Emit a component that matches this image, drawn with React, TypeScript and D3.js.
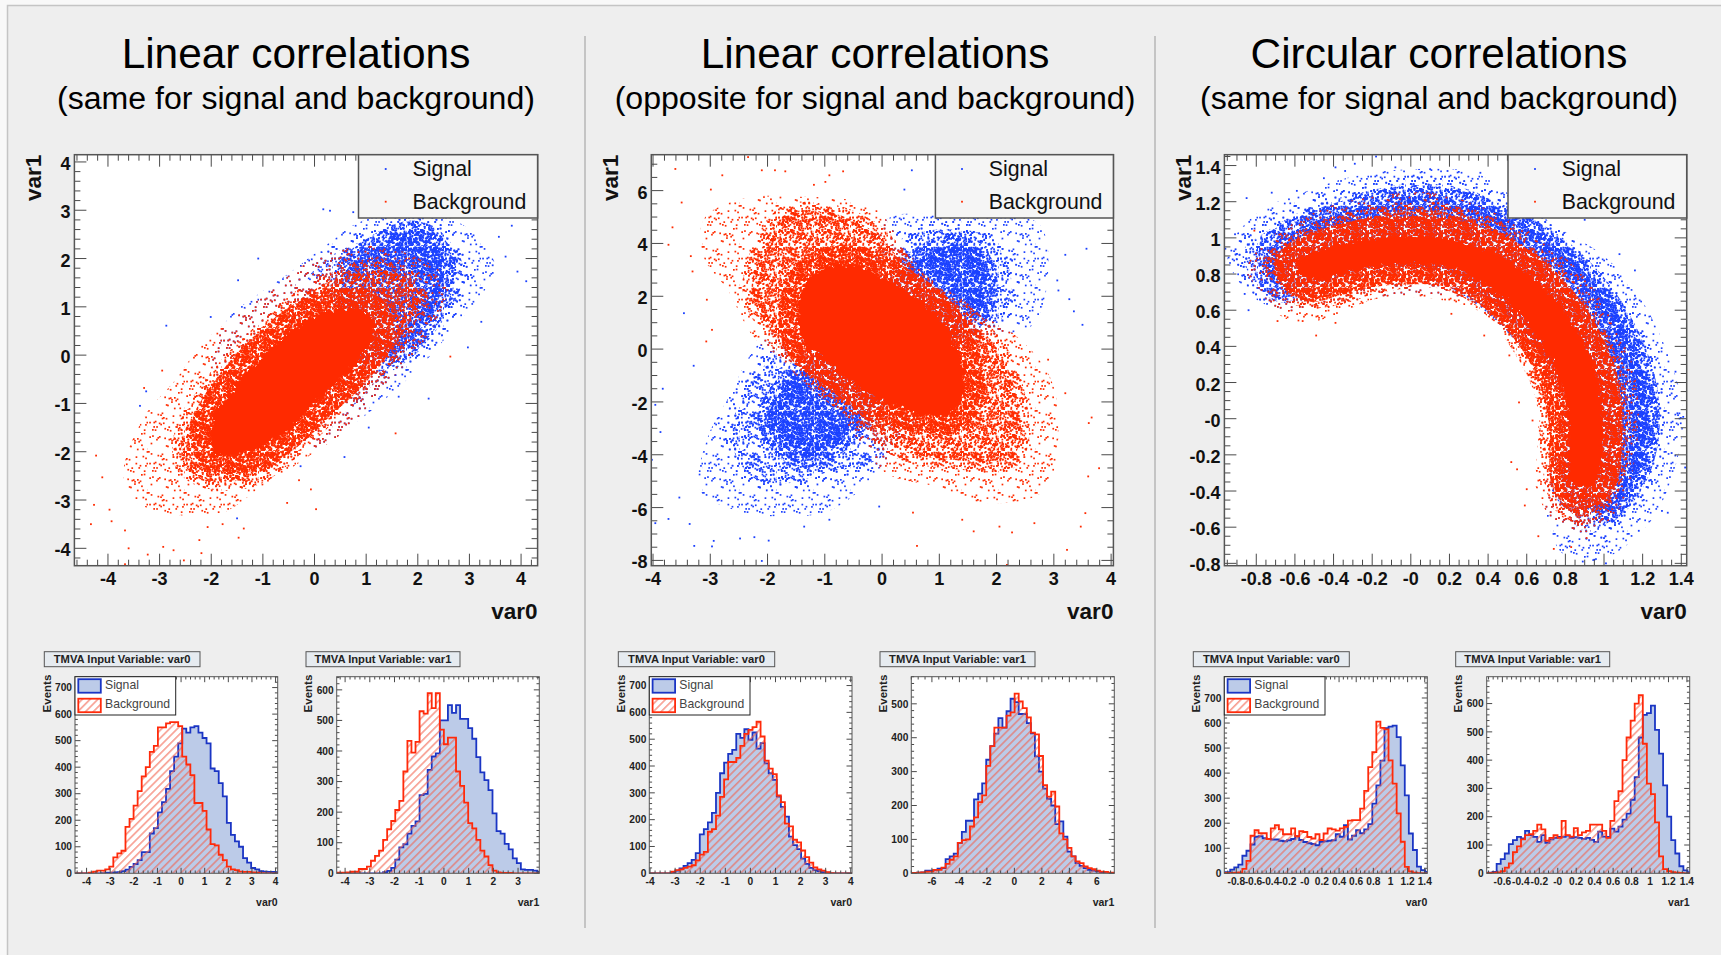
import React, { useEffect, useRef } from "react";
import * as d3 from "d3";

type Pt = number[];

const BLUE = "#1a40ff";
const RED = "#ff2b00";
const HIST_BLUE = "#1a35c4";
const HIST_RED = "#ff2a0a";

// ---- histogram bin contents, 50 bins ----
const h1Signal = [0,0,0,0,0,0,1,2,2,3,4,8,14,24,35,50,80,80,150,170,230,268,318,385,440,490,545,530,550,555,530,510,490,395,385,340,290,190,145,120,100,57,40,20,15,8,6,5,5,4];
const h1Background = [0,0,0,2,6,10,10,15,25,60,75,85,175,205,255,310,365,400,458,480,550,550,565,570,570,555,440,410,370,265,265,235,165,110,105,70,50,25,15,12,6,5,5,3,2,1,0,0,0,0];
const h2Signal = [0,0,0,0,0,0,0,0,0,0,0,4,8,18,45,85,95,130,155,170,256,260,338,382,392,500,500,550,525,550,505,505,475,440,380,330,305,272,196,138,130,96,78,49,33,13,11,11,9,5];
const h2Background = [2,2,3,5,5,14,14,22,41,57,74,109,144,171,207,237,333,433,395,430,530,522,589,540,589,470,422,444,444,333,286,231,164,147,109,74,55,27,9,3,1,1,1,0,0,0,0,0,0,0];
const h3Signal = [0,0,0,0,0,3,10,18,28,38,50,75,145,165,190,225,300,373,413,445,460,520,505,537,498,525,465,485,410,373,348,286,248,211,137,105,90,55,35,20,12,8,4,2,0,0,0,0,0,0];
const h3Background = [0,0,0,0,0,6,12,15,20,25,30,48,70,80,155,165,215,285,350,415,415,430,475,520,535,545,565,510,420,390,370,290,265,185,175,125,115,85,60,40,22,15,10,4,1,0,0,0,0,0];
const h4Signal = [1,2,3,8,8,10,14,15,42,50,58,90,122,155,155,218,235,265,335,375,412,458,430,478,515,505,470,470,443,413,345,300,250,220,200,145,153,108,64,50,30,22,15,10,8,6,3,2,1,1];
const h4Background = [1,2,3,5,5,10,10,17,28,40,50,90,98,100,138,165,210,230,317,375,430,430,430,465,475,530,507,487,460,415,410,346,260,226,241,197,118,100,75,50,35,30,20,15,12,8,5,4,2,2];
const h5Signal = [5,15,24,35,70,90,115,146,148,140,137,135,135,130,128,132,137,148,133,125,120,117,112,126,128,130,132,156,146,192,135,150,172,160,175,196,278,351,450,580,586,590,544,431,311,159,93,27,13,6];
const h5Background = [2,2,3,4,18,50,150,172,160,160,137,179,192,175,156,156,179,148,168,165,145,139,156,133,159,179,175,170,179,185,210,212,212,258,329,424,484,606,581,575,451,358,239,126,26,8,3,1,0,0];
const h6Signal = [2,5,33,50,70,103,117,129,123,150,135,129,111,135,108,120,125,129,129,133,125,128,125,122,125,118,111,147,130,129,158,147,165,190,211,260,340,480,560,566,593,507,423,311,200,117,70,25,10,4];
const h6Background = [1,2,3,8,20,35,75,95,120,135,138,150,172,155,115,125,135,125,185,135,130,160,135,145,150,172,172,172,150,125,185,255,290,400,480,540,600,630,458,317,280,180,60,15,8,4,2,1,0,0];

// ---- scatter clouds: density outlines, data coordinates ----
// the real plots hold about 20000 events each, so sparse / dense / solid zones stand in for them
const linSigOuter: Pt[] = [[3.5,1.83],[3.1,2.52],[2.3,2.93],[0.97,2.8],[0.17,2.24],[-0.5,1.69],[-1.17,1.2],[-1.7,0.72],[-1.97,-0.38],[-1,-1.76],[0.03,-1.93],[0.7,-1.48],[1.5,-0.79],[2.17,-0.1],[2.83,0.73],[3.3,1.35]];
const linSigMid: Pt[] = [[2.9,1.69],[2.7,2.24],[2.17,2.73],[1.17,2.45],[0.3,2.04],[-0.23,1.42],[-0.5,0],[0.63,-1.07],[1.23,-0.52],[1.97,0.03],[2.57,0.86]];
const linSigCore: Pt[] = [[2.5,2],[1.97,2.55],[1.1,2.2],[0.55,1.6],[0.8,-0.1],[1.4,-0.05],[2,0.45],[2.45,1.3]];
const linBkgOuter: Pt[] = [[-3.7,-2.45],[-3.3,-1.28],[-2.7,-0.52],[-2.17,0.24],[-1.57,0.79],[-0.9,1.28],[-0.17,1.9],[0.7,2.24],[1.63,2.17],[2.57,1.55],[2.3,0.59],[1.83,-0.1],[1.23,-0.79],[0.7,-1.48],[-0.23,-2.18],[-1.03,-2.73],[-1.83,-3.28],[-2.83,-3.28],[-3.5,-3]];
const linBkgMid: Pt[] = [[-2.57,-1.76],[-2.1,-0.79],[-1.57,-0.1],[-0.9,0.59],[-0.23,1.2],[0.7,1.69],[1.63,1.69],[2.03,1.28],[1.63,0.31],[0.97,-0.52],[0.3,-1.2],[-0.37,-1.9],[-1.17,-2.52],[-1.97,-2.6],[-2.5,-2.31]];
const linBkgCore: Pt[] = [[-2,-1.5],[-1.5,-0.6],[-0.9,0.1],[-0.2,0.7],[0.5,0.95],[1,0.9],[1.15,0.4],[0.65,-0.35],[0,-1],[-0.6,-1.6],[-1.3,-2],[-1.9,-2]];
const linSigStray: Pt[] = [[0.17,3.02],[0.3,2.99],[0.75,2.96],[-1.09,2],[-1.48,1.55],[-2.01,0.79],[-2.87,0.61],[3.93,1.73],[4.1,1.53],[3.7,2.04],[3.57,2.45],[3.82,2.68],[3.45,1.86],[3.23,0.69],[2.97,0.16],[2.21,-0.9],[1.63,-0.86],[1.05,-1.5],[0.58,-2.11],[-0.27,-2.3],[-1.5,-3.38],[-3.38,-1.05],[-3.26,-0.75]];
const linBkgStray: Pt[] = [[-4.23,-2.08],[-4.11,-2.53],[-4.27,-3.1],[-4.33,-3.5],[-4.67,-3.3],[-3.97,-3.2],[-3.93,-3.44],[-3.67,-3.63],[-3.6,-4],[-3.67,-4.33],[-3.23,-4.13],[-2.93,-3.97],[-2.73,-4.04],[-2.53,-4.25],[-2.19,-4.1],[-2.23,-3.83],[-2.07,-3.56],[-1.78,-3.5],[-1.47,-3.78],[-1.37,-3.59],[0.03,-3.19],[-0.07,-2.78],[1.57,-1.62],[-0.53,-3.06],[-0.3,-2.59],[-3.3,-0.68],[-2.95,-0.32],[2.63,-0.03]];

const oppSigOuter: Pt[] = [[-3.18,-5.33],[-3.06,-3.43],[-2.64,-1.67],[-2.2,0.1],[-0.29,4.14],[0.19,5.03],[1.22,5.03],[2.72,4.77],[2.9,2.88],[2.6,0.86],[1.52,0.35],[0.61,-2.17],[-0.11,-4.7],[-0.89,-6.09],[-1.8,-6.34],[-2.58,-6.09]];
const oppSigMid: Pt[] = [[-2.28,-4.82],[-2.64,-3.43],[-2.46,-1.92],[-1.86,-0.15],[0.31,4.14],[0.92,4.52],[1.82,4.27],[2.24,2.88],[2.12,1.24],[1.52,0.1],[0.01,-4.07],[-1.01,-4.7],[-1.67,-5.08]];
const oppSigCore: Pt[] = [[-1.73,-3.69],[-1.98,-2.55],[-1.49,-0.91],[-0.29,1.62],[0.92,3.76],[1.52,3.89],[1.82,2.63],[1.7,1.36],[0.31,-1.16],[-0.71,-3.43],[-1.25,-4.07]];
const oppBkgOuter: Pt[] = [[-3.12,4.9],[-2.52,5.66],[-1.49,5.78],[-0.17,5.4],[0.31,4.14],[1.22,1.62],[2.12,0.86],[2.9,-0.91],[3.08,-2.8],[2.84,-5.33],[1.82,-5.83],[0.92,-5.2],[0.07,-4.7],[-0.41,-3.43],[-1.37,-0.91],[-2.2,0.35],[-2.7,2.25],[-3.12,3.51]];
const oppBkgMid: Pt[] = [[-1.73,5.03],[-0.89,5.15],[-0.11,4.39],[0.61,2.63],[1.52,1.24],[2.18,-0.66],[2.42,-3.18],[2.24,-4.19],[1.22,-4.19],[0.31,-3.81],[-0.35,-2.55],[-1.19,-1.16],[-1.86,0.48],[-2.28,2.25]];
const oppBkgCore: Pt[] = [[-1.2,2.8],[-0.6,3.2],[0.1,2.6],[0.9,1.4],[1.3,0.1],[1.45,-1.4],[1.2,-2.4],[0.6,-2.4],[-0.2,-1.7],[-0.9,-0.6],[-1.35,0.2],[-1.45,1.6]];
const oppSigStray: Pt[] = [[-3.46,1.36],[-3.29,-0.63],[-3.83,-1.5],[-3.96,-2.11],[-3.87,-3.14],[-4.02,-4.19],[-3.96,-6.59],[-3.73,-6.43],[-3.54,-5.62],[-3.36,-6.62],[-3.28,-7.45],[-2.97,-7.47],[-2.94,-7.26],[-2.48,-7.17],[-2.23,-7.12],[-1.98,-7.25],[-2.1,-8.02],[-1.36,-6.72],[-0.92,-6.46],[-0.05,-5.96],[0.52,6.77],[0.39,6.04],[3.2,3.57],[3.57,3.8],[3.5,0.92],[3.35,1.43],[3.27,1.89],[3.08,2.22],[3.06,2.6]];
const oppBkgStray: Pt[] = [[-4.05,5.3],[-3.61,6.82],[-3.5,5.55],[-3.66,4.61],[-3.73,3.95],[-3.34,3.52],[-3.31,2.94],[-2.99,6.04],[-2.79,6.58],[-2.34,7.27],[-2.1,6.77],[-1.87,6.77],[-1.69,6.73],[-0.92,6.58],[-0.68,6.73],[-1.19,6.22],[-0.99,6.33],[-3.07,0.29],[-3.06,1.87],[-2.97,0.73],[3.66,-2.59],[3.61,-2.8],[3.79,-4.51],[3.6,-4.82],[3.55,-6.21],[3.47,-6.72],[3.23,-7.6],[2.27,-6.94],[2.18,-8.17],[0.61,-7.45],[1.6,-6.9],[1.4,-6.46],[0.54,-6.19],[3.2,-1.67],[2.9,-0.4],[2.05,-6.72],[2.66,-6.59]];

const circSigOuter: Pt[] = [[-0.95,0.92],[-0.78,1.15],[-0.56,1.25],[-0.3,1.34],[0,1.38],[0.33,1.36],[0.55,1.21],[0.79,1.04],[1,0.9],[1.18,0.68],[1.33,0.36],[1.41,0.01],[1.33,-0.39],[1.2,-0.62],[0.98,-0.78],[0.79,-0.75],[0.7,-0.52],[0.7,-0.3],[0.78,0.07],[0.65,0.44],[0.37,0.77],[0,0.8],[-0.37,0.77],[-0.59,0.66],[-0.76,0.64],[-0.87,0.73]];
const circSigMid: Pt[] = [[-0.87,0.92],[-0.74,1.04],[-0.52,1.17],[-0.26,1.25],[0,1.3],[0.29,1.27],[0.52,1.15],[0.72,1.03],[0.92,0.84],[1.09,0.62],[1.22,0.32],[1.28,0.01],[1.22,-0.32],[1.09,-0.51],[0.96,-0.63],[0.83,-0.56],[0.89,0.01],[0.65,0.4],[0.33,0.69],[0,0.73],[-0.37,0.69],[-0.65,0.64],[-0.76,0.69]];
const circSigCore: Pt[] = [[-0.74,0.93],[-0.52,1.08],[-0.26,1.17],[0,1.23],[0.29,1.19],[0.55,1.08],[0.79,0.92],[0.98,0.71],[1.13,0.45],[1.22,0.16],[1.22,-0.15],[1.13,-0.39],[1,-0.52],[0.79,-0.39],[0.83,0.07],[0.55,0.51],[0.18,0.8],[-0.19,0.84],[-0.52,0.73],[-0.71,0.73]];
const circBkgOuter: Pt[] = [[-0.85,0.82],[-0.74,0.99],[-0.48,1.15],[-0.19,1.23],[0.11,1.25],[0.37,1.17],[0.65,1.01],[0.85,0.84],[1.02,0.6],[1.15,0.29],[1.18,-0.03],[1.13,-0.36],[1.05,-0.54],[0.89,-0.63],[0.74,-0.56],[0.65,-0.39],[0.66,-0.04],[0.61,0.29],[0.41,0.56],[0.13,0.66],[-0.19,0.66],[-0.37,0.58],[-0.56,0.53],[-0.69,0.58],[-0.78,0.71]];
const circBkgMid: Pt[] = [[-0.71,0.86],[-0.46,1.04],[-0.19,1.12],[0.11,1.15],[0.37,1.08],[0.61,0.93],[0.81,0.73],[0.96,0.47],[1.07,0.16],[1.09,-0.12],[1.02,-0.41],[0.89,-0.54],[0.78,-0.47],[0.72,-0.21],[0.7,0.1],[0.57,0.4],[0.37,0.66],[0.15,0.77],[-0.15,0.75],[-0.37,0.68],[-0.52,0.66],[-0.65,0.71]];
const circBkgCore: Pt[] = [[-0.6,0.85],[-0.41,0.95],[-0.15,1],[0.15,1],[0.42,0.92],[0.64,0.77],[0.84,0.52],[0.97,0.2],[0.99,-0.12],[0.95,-0.36],[0.84,-0.36],[0.82,-0.03],[0.75,0.27],[0.56,0.58],[0.26,0.82],[-0.11,0.85],[-0.37,0.8],[-0.52,0.76]];
const circSigStray: Pt[] = [[-0.96,0.94],[-0.91,1.02],[-0.85,1.22],[-0.72,1.25],[-0.59,1.26],[-0.45,1.33],[-0.39,1.39],[-0.34,1.37],[-0.29,1.41],[-0.18,1.45],[-0.08,1.39],[0.1,1.38],[0.19,1.37],[0.36,1.36],[0.9,1.1],[1.08,0.91],[1.16,0.82],[1.16,0.68],[1.37,0.26],[1.35,0.14],[1.41,0.01],[1.38,0.03],[1.35,-0.19],[1.42,-0.27],[1.33,-0.52],[1.3,-0.51],[1.18,-0.62],[1.01,-0.8],[0.95,-0.78],[0.89,-0.79],[-0.84,0.6],[-0.86,0.69]];
const circBkgStray: Pt[] = [[-0.97,0.84],[-0.81,1.04],[-0.49,0.46],[-0.69,0.54],[-0.56,0.54],[-0.39,0.53],[-0.25,0.64],[0.21,0.58],[0.38,0.46],[0.51,0.35],[0.56,0.09],[0.63,-0.01],[0.52,-0.24],[0.55,-0.28],[0.6,-0.39],[0.59,-0.48],[0.66,-0.65],[0.74,-0.72],[0.83,-0.71],[0.91,-0.66]];

// ---- tick labels ----
const linXTicks = [-4,-3,-2,-1,0,1,2,3,4];
const linYTicks = [-4,-3,-2,-1,0,1,2,3,4];
const oppXTicks = [-4,-3,-2,-1,0,1,2,3,4];
const oppYTicks = [-8,-6,-4,-2,0,2,4,6];
const circTicks = [-0.8,-0.6,-0.4,-0.2,0,0.2,0.4,0.6,0.8,1,1.2,1.4];
const circYTicks = [-0.8,-0.6,-0.4,-0.2,0,0.2,0.4,0.6,0.8,1,1.2,1.4];

const fmt = (v: number) => (v === 0 ? "-0" : String(v));
const fmtPlain = (v: number) => String(v);

const scatterPanels = [
  {
    title: "Linear correlations", sub: "(same for signal and background)", cx: 296,
    frame: [74.4, 537.6], xDom: [-4.65, 4.32], yDom: [-4.36, 4.15],
    xTicks: linXTicks, yTicks: linYTicks, xSub: 5, ySub: 5, fmt: fmtPlain,
    sig: [linSigOuter, linSigMid, linSigCore], bkg: [linBkgOuter, linBkgMid, linBkgCore],
    sigStray: linSigStray, bkgStray: linBkgStray,
    yLabelX: 33, tickRight: 70.5, legX: 358.5, dotX: 385.7, textX: 412.6,
  },
  {
    title: "Linear correlations", sub: "(opposite for signal and background)", cx: 875,
    frame: [651.3, 1113.4], xDom: [-4.03, 4.04], yDom: [-8.2, 7.36],
    xTicks: oppXTicks, yTicks: oppYTicks, xSub: 5, ySub: 4, fmt: fmtPlain,
    sig: [oppSigOuter, oppSigMid, oppSigCore], bkg: [oppBkgOuter, oppBkgMid, oppBkgCore],
    sigStray: oppSigStray, bkgStray: oppBkgStray,
    yLabelX: 610, tickRight: 647.5, legX: 935.4, dotX: 962, textX: 988.8,
  },
  {
    title: "Circular correlations", sub: "(same for signal and background)", cx: 1439,
    frame: [1224.4, 1686.7], xDom: [-0.965, 1.428], yDom: [-0.813, 1.46],
    xTicks: circTicks, yTicks: circYTicks, xSub: 4, ySub: 4, fmt,
    sig: [circSigOuter, circSigMid, circSigCore], bkg: [circBkgOuter, circBkgMid, circBkgCore],
    sigStray: circSigStray, bkgStray: circBkgStray,
    yLabelX: 1183, tickRight: 1220.5, legX: 1508, dotX: 1535, textX: 1561.8,
  },
];

const histPanels = [
  { name: "var0", frame: [75, 277.7], xDom: [-4.49, 4.09], yMax: 741, xTicks: [-4,-3,-2,-1,0,1,2,3,4], yTicks: [0,100,200,300,400,500,600,700], sig: h1Signal, bkg: h1Background, legend: true, box: [44.3, 200], evX: 46.7, xSub: 5, ySub: 5, fmt: fmtPlain },
  { name: "var1", frame: [336.7, 539.3], xDom: [-4.34, 3.86], yMax: 643, xTicks: [-4,-3,-2,-1,0,1,2,3], yTicks: [0,100,200,300,400,500,600], sig: h2Signal, bkg: h2Background, legend: false, box: [306, 460], evX: 308, xSub: 5, ySub: 5, fmt: fmtPlain },
  { name: "var0", frame: [649.3, 852], xDom: [-4.03, 4.05], yMax: 733, xTicks: [-4,-3,-2,-1,0,1,2,3,4], yTicks: [0,100,200,300,400,500,600,700], sig: h3Signal, bkg: h3Background, legend: true, box: [618.3, 774.7], evX: 621, xSub: 5, ySub: 5, fmt: fmtPlain },
  { name: "var1", frame: [911.3, 1114.3], xDom: [-7.5, 7.27], yMax: 580, xTicks: [-6,-4,-2,0,2,4,6], yTicks: [0,100,200,300,400,500], sig: h4Signal, bkg: h4Background, legend: false, box: [880, 1035], evX: 883, xSub: 4, ySub: 5, fmt: fmtPlain },
  { name: "var0", frame: [1224.3, 1427.3], xDom: [-0.94, 1.43], yMax: 785, xTicks: circTicks, yTicks: [0,100,200,300,400,500,600,700], sig: h5Signal, bkg: h5Background, legend: true, box: [1193.3, 1349.3], evX: 1196, xSub: 4, ySub: 5, fmt },
  { name: "var1", frame: [1486.7, 1689.7], xDom: [-0.77, 1.43], yMax: 695, xTicks: circTicks.slice(1), yTicks: [0,100,200,300,400,500,600], sig: h6Signal, bkg: h6Background, legend: false, box: [1455.7, 1609.7], evX: 1457.7, xSub: 4, ySub: 5, fmt },
];

const SANS = "'Liberation Sans', Arial, sans-serif";

// major ticks plus minor ones on all four sides, root style
function drawTicks(g: any, x: any, y: any, p: any, major: number, minor: number) {
  const [x0, x1] = x.range();
  const [y0, y1] = y.range();
  const minorsOf = (ticks: number[], sub: number, dom: number[]) => {
    const step = (ticks[1] - ticks[0]) / sub;
    const out: number[] = [];
    for (let v = ticks[0] - step * sub; v <= ticks[ticks.length - 1] + step * sub + 1e-9; v += step) {
      if (v >= dom[0] && v <= dom[1]) out.push(v);
    }
    return out;
  };
  const line = (x1a: number, y1a: number, x2a: number, y2a: number) =>
    g.append("line").attr("x1", x1a).attr("y1", y1a).attr("x2", x2a).attr("y2", y2a)
      .attr("stroke", "#4a4a4a").attr("stroke-width", 1);
  minorsOf(p.xTicks, p.xSub, x.domain()).forEach((v) => {
    const isMajor = p.xTicks.some((t: number) => Math.abs(t - v) < 1e-6);
    const len = isMajor ? major : minor;
    line(x(v), y0, x(v), y0 - len);
    line(x(v), y1, x(v), y1 + len);
  });
  minorsOf(p.yTicks, p.ySub, y.domain()).forEach((v) => {
    const isMajor = p.yTicks.some((t: number) => Math.abs(t - v) < 1e-6);
    const len = isMajor ? major : minor;
    line(x0, y(v), x0 + len, y(v));
    line(x1, y(v), x1 - len, y(v));
  });
}

const App = () => {
  const svgRef = useRef<SVGSVGElement>(null);

  useEffect(() => {
    const svg = d3.select(svgRef.current);
    svg.selectAll("*").remove();

    svg.append("rect").attr("width", 1721).attr("height", 955).attr("fill", "#f8f8f8");
    svg.append("rect").attr("x", 7.5).attr("y", 5.5).attr("width", 1720).attr("height", 960)
      .attr("fill", "#eeeeee").attr("stroke", "#c4c4c4").attr("stroke-width", 1.5);

    [585, 1155].forEach((sx) => {
      svg.append("line").attr("x1", sx).attr("x2", sx).attr("y1", 36).attr("y2", 928)
        .attr("stroke", "#a8a8a8").attr("stroke-width", 1.2);
    });

    // stipple textures for the sparse and dense zones of the clouds
    const defs = svg.append("defs");
    const stipple = (id: string, color: string, n: number) => {
      const pat = defs.append("pattern").attr("id", id).attr("patternUnits", "userSpaceOnUse")
        .attr("width", 37).attr("height", 41);
      d3.range(n).forEach((i) => {
        pat.append("rect").attr("x", (i * 13.7) % 37).attr("y", (i * i * 0.37 + i * 7.3) % 41)
          .attr("width", 1.7).attr("height", 1.7).attr("fill", color);
      });
    };
    [["blue", BLUE], ["red", RED]].forEach(([key, color]) => {
      stipple(`sparse-${key}`, color, 55);
      stipple(`medium-${key}`, color, 170);
      stipple(`dense-${key}`, color, 400);
      stipple(`vdense-${key}`, color, 750);
    });

    // roughens the edge of the solid zone so it does not read as a drawn shape
    const rough = defs.append("filter").attr("id", "rough").attr("x", "-10%").attr("y", "-10%")
      .attr("width", "120%").attr("height", "120%");
    rough.append("feTurbulence").attr("type", "fractalNoise").attr("baseFrequency", 0.16)
      .attr("numOctaves", 2).attr("seed", 4).attr("result", "noise");
    rough.append("feDisplacementMap").attr("in", "SourceGraphic").attr("in2", "noise")
      .attr("scale", 12).attr("xChannelSelector", "R").attr("yChannelSelector", "G");

    const hatch = defs.append("pattern").attr("id", "hatch").attr("patternUnits", "userSpaceOnUse")
      .attr("width", 5.5).attr("height", 5.5).attr("patternTransform", "rotate(-45)");
    hatch.append("line").attr("x1", 0).attr("x2", 5.5).attr("y1", 2.7).attr("y2", 2.7)
      .attr("stroke", "#f2604a").attr("stroke-width", 1);

    // ---- big titles and scatter plots ----
    const top = 154.7;
    const bottom = 565.7;
    scatterPanels.forEach((p, pi) => {
      svg.append("text").attr("x", p.cx).attr("y", 68).attr("text-anchor", "middle")
        .attr("font-family", SANS).attr("font-size", 42.4).attr("fill", "#000").text(p.title);
      svg.append("text").attr("x", p.cx).attr("y", 109).attr("text-anchor", "middle")
        .attr("font-family", SANS).attr("font-size", 32.1).attr("fill", "#000").text(p.sub);

      const x = d3.scaleLinear().domain(p.xDom).range(p.frame);
      const y = d3.scaleLinear().domain(p.yDom).range([bottom, top]);

      svg.append("rect").attr("x", p.frame[0]).attr("y", top)
        .attr("width", p.frame[1] - p.frame[0]).attr("height", bottom - top).attr("fill", "#fff");

      const clipId = `clip-${pi}`;
      defs.append("clipPath").attr("id", clipId).append("rect").attr("x", p.frame[0]).attr("y", top)
        .attr("width", p.frame[1] - p.frame[0]).attr("height", bottom - top);
      const cloud = svg.append("g").attr("clip-path", `url(#${clipId})`);

      const outline = d3.line<Pt>().x((d) => x(d[0])).y((d) => y(d[1])).curve(d3.curveCatmullRomClosed);
      const strayDots = (stray: Pt[], color: string) => {
        cloud.selectAll(null).data(stray).enter().append("rect")
          .attr("x", (d) => x(d[0]) - 0.9).attr("y", (d) => y(d[1]) - 0.9)
          .attr("width", 1.8).attr("height", 1.8).attr("fill", color);
      };

      // signal: textured all the way in, no solid zone
      cloud.append("path").attr("d", outline(p.sig[0])).attr("fill", "url(#sparse-blue)");
      cloud.append("path").attr("d", outline(p.sig[1])).attr("fill", "url(#medium-blue)")
        .attr("stroke", "url(#sparse-blue)").attr("stroke-width", 16);
      cloud.append("path").attr("d", outline(p.sig[2])).attr("fill", "url(#vdense-blue)")
        .attr("stroke", "url(#dense-blue)").attr("stroke-width", 22);
      strayDots(p.sigStray, BLUE);

      // background: stipple out to the dense line, solid only in the middle
      cloud.append("path").attr("d", outline(p.bkg[0])).attr("fill", "url(#sparse-red)");
      cloud.append("path").attr("d", outline(p.bkg[1])).attr("fill", "url(#dense-red)")
        .attr("stroke", "url(#medium-red)").attr("stroke-width", 18);
      cloud.append("path").attr("d", outline(p.bkg[2])).attr("fill", "none")
        .attr("stroke", "url(#vdense-red)").attr("stroke-width", 40);
      cloud.append("path").attr("d", outline(p.bkg[2])).attr("fill", RED).attr("filter", "url(#rough)");
      strayDots(p.bkgStray, RED);

      const axes = svg.append("g");
      drawTicks(axes, x, y, p, 12, 6);
      svg.append("rect").attr("x", p.frame[0]).attr("y", top)
        .attr("width", p.frame[1] - p.frame[0]).attr("height", bottom - top)
        .attr("fill", "none").attr("stroke", "#555").attr("stroke-width", 1.5);

      p.xTicks.forEach((t) => {
        svg.append("text").attr("x", x(t)).attr("y", 584.5).attr("text-anchor", "middle")
          .attr("font-family", SANS).attr("font-weight", "bold").attr("font-size", 18)
          .attr("fill", "#111").text(p.fmt(t));
      });
      p.yTicks.forEach((t) => {
        svg.append("text").attr("x", p.tickRight).attr("y", y(t) + 8).attr("text-anchor", "end")
          .attr("font-family", SANS).attr("font-weight", "bold").attr("font-size", 18)
          .attr("fill", "#111").text(p.fmt(t));
      });
      svg.append("text").attr("x", p.frame[1]).attr("y", 619).attr("text-anchor", "end")
        .attr("font-family", SANS).attr("font-weight", "bold").attr("font-size", 22.5)
        .attr("fill", "#111").text("var0");
      svg.append("text").attr("transform", `translate(${p.yLabelX + 8},${top}) rotate(-90)`)
        .attr("text-anchor", "end").attr("font-family", SANS).attr("font-weight", "bold")
        .attr("font-size", 22.5).attr("fill", "#111").text("var1");

      // legend
      svg.append("rect").attr("x", p.legX).attr("y", top).attr("width", p.frame[1] - p.legX)
        .attr("height", 63.3).attr("fill", "#f5f5f5").attr("stroke", "#555").attr("stroke-width", 1.5);
      [["Signal", BLUE, 176, 169], ["Background", RED, 209, 201.7]].forEach(([label, color, ty, dy]: any) => {
        svg.append("rect").attr("x", p.dotX - 0.9).attr("y", dy - 0.9).attr("width", 1.8).attr("height", 1.8).attr("fill", color);
        svg.append("text").attr("x", p.textX).attr("y", ty).attr("font-family", SANS)
          .attr("font-size", 21.3).attr("fill", "#111").text(label);
      });
    });

    // ---- small input variable histograms ----
    const hTop = 676.7;
    const hBottom = 873.3;
    histPanels.forEach((p, hi) => {
      const x = d3.scaleLinear().domain(p.xDom).range(p.frame);
      const y = d3.scaleLinear().domain([0, p.yMax]).range([hBottom, hTop]);
      const binW = (p.xDom[1] - p.xDom[0]) / p.sig.length;
      // the bins sit a little under half a bin right of the frame edge in the picture
      const edge = (i: number) => p.xDom[0] + (i + 0.45) * binW;
      const steps = (a: number[]) => [
        [p.xDom[0], a[0]],
        ...a.map((v, i) => [edge(i), v]),
        [edge(a.length), a[a.length - 1]],
      ];

      svg.append("rect").attr("x", p.box[0]).attr("y", 651.7).attr("width", p.box[1] - p.box[0])
        .attr("height", 15).attr("fill", "#e6ebf0").attr("stroke", "#555").attr("stroke-width", 1);
      svg.append("text").attr("x", (p.box[0] + p.box[1]) / 2).attr("y", 662.6).attr("text-anchor", "middle")
        .attr("font-family", SANS).attr("font-weight", "bold").attr("font-size", 11.2)
        .attr("fill", "#222").text(`TMVA Input Variable: ${p.name}`);

      svg.append("rect").attr("x", p.frame[0]).attr("y", hTop)
        .attr("width", p.frame[1] - p.frame[0]).attr("height", hBottom - hTop).attr("fill", "#fff");

      const clipId = `hclip-${hi}`;
      defs.append("clipPath").attr("id", clipId).append("rect").attr("x", p.frame[0]).attr("y", hTop)
        .attr("width", p.frame[1] - p.frame[0]).attr("height", hBottom - hTop);
      const bars = svg.append("g").attr("clip-path", `url(#${clipId})`);

      const area = d3.area<Pt>().x((d) => x(d[0])).y0(hBottom).y1((d) => y(d[1])).curve(d3.curveStepAfter);
      const topLine = d3.line<Pt>().x((d) => x(d[0])).y((d) => y(d[1])).curve(d3.curveStepAfter);

      bars.append("path").attr("d", area(steps(p.sig))).attr("fill", "#bccbe8");
      bars.append("path").attr("d", topLine(steps(p.sig))).attr("fill", "none").attr("stroke", HIST_BLUE).attr("stroke-width", 1.8);
      bars.append("path").attr("d", area(steps(p.bkg))).attr("fill", "url(#hatch)");
      bars.append("path").attr("d", topLine(steps(p.bkg))).attr("fill", "none").attr("stroke", HIST_RED).attr("stroke-width", 1.8);

      const axes = svg.append("g");
      drawTicks(axes, x, y, p, 5.5, 2.8);
      svg.append("rect").attr("x", p.frame[0]).attr("y", hTop)
        .attr("width", p.frame[1] - p.frame[0]).attr("height", hBottom - hTop)
        .attr("fill", "none").attr("stroke", "#555").attr("stroke-width", 1);

      p.xTicks.forEach((t) => {
        svg.append("text").attr("x", x(t)).attr("y", 885).attr("text-anchor", "middle")
          .attr("font-family", SANS).attr("font-weight", "bold").attr("font-size", 10.2)
          .attr("fill", "#222").text(p.fmt(t));
      });
      p.yTicks.forEach((t) => {
        svg.append("text").attr("x", p.frame[0] - 3).attr("y", y(t) + 3.7).attr("text-anchor", "end")
          .attr("font-family", SANS).attr("font-weight", "bold").attr("font-size", 10.2)
          .attr("fill", "#222").text(fmtPlain(t));
      });
      svg.append("text").attr("x", p.frame[1]).attr("y", 905.5).attr("text-anchor", "end")
        .attr("font-family", SANS).attr("font-weight", "bold").attr("font-size", 10.5)
        .attr("fill", "#222").text(p.name);
      svg.append("text").attr("transform", `translate(${p.evX + 4},${hTop - 2}) rotate(-90)`)
        .attr("text-anchor", "end").attr("font-family", SANS).attr("font-weight", "bold")
        .attr("font-size", 11.5).attr("fill", "#222").text("Events");

      if (p.legend) {
        const lx = p.frame[0];
        svg.append("rect").attr("x", lx).attr("y", hTop).attr("width", 100.7).attr("height", 38.3)
          .attr("fill", "#fff").attr("stroke", "#222").attr("stroke-width", 1);
        svg.append("rect").attr("x", lx + 3.3).attr("y", hTop + 2.5).attr("width", 22.5).attr("height", 13.5)
          .attr("fill", "#bccbe8").attr("stroke", HIST_BLUE).attr("stroke-width", 1.8);
        svg.append("rect").attr("x", lx + 3.3).attr("y", hTop + 22).attr("width", 22.5).attr("height", 13.5)
          .attr("fill", "url(#hatch)").attr("stroke", HIST_RED).attr("stroke-width", 1.8);
        svg.append("text").attr("x", lx + 30).attr("y", hTop + 12.5).attr("font-family", SANS)
          .attr("font-size", 12.2).attr("fill", "#444").text("Signal");
        svg.append("text").attr("x", lx + 30).attr("y", hTop + 31.7).attr("font-family", SANS)
          .attr("font-size", 12.2).attr("fill", "#444").text("Background");
      }
    });
  }, []);

  return (
    <svg ref={svgRef} width={1721} height={955}
      style={{ position: "absolute", left: 0, top: 0, display: "block" }} />
  );
};

export default App;
